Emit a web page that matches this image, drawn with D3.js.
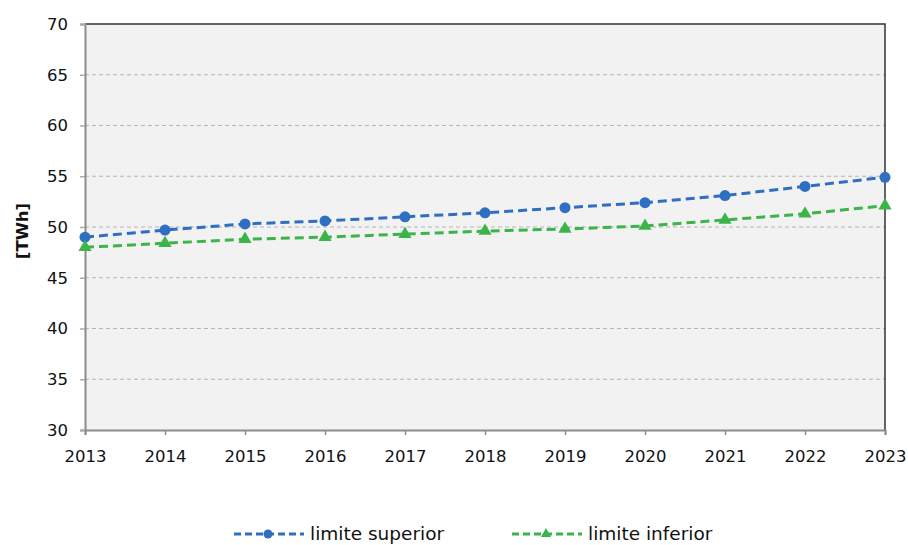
<!DOCTYPE html>
<html>
<head>
<meta charset="utf-8">
<script src="https://cdn.jsdelivr.net/npm/d3@7"></script>
<style>
  body { margin: 0; background: #fff; }
  svg { display: block; font-family: "DejaVu Sans", sans-serif; }
</style>
</head>
<body>
<div id="graph"></div>
<script>
// data
var years = [2013, 2014, 2015, 2016, 2017, 2018, 2019, 2020, 2021, 2022, 2023];
var superior = [49.0, 49.7, 50.3, 50.6, 51.0, 51.4, 51.9, 52.4, 53.1, 54.0, 54.9];
var inferior = [48.0, 48.4, 48.8, 49.0, 49.3, 49.6, 49.8, 50.1, 50.7, 51.3, 52.1];
var yTicks = [30, 35, 40, 45, 50, 55, 60, 65, 70];
var seriesNames = ["limite superior", "limite inferior"];

var W = 908, H = 545;
var margin = {top: 24, right: 23, bottom: 115, left: 85},
    width = W - margin.left - margin.right,
    height = H - margin.top - margin.bottom;

var blue = "#2e6fc2", green = "#3cb44a";

var x = d3.scaleLinear().domain([2013, 2023]).range([0, width]);
var y = d3.scaleLinear().domain([30, 70]).range([height, 0]);

var svg = d3.select("#graph").append("svg")
    .attr("width", W)
    .attr("height", H);

var g = svg.append("g")
    .attr("transform", "translate(" + margin.left + "," + margin.top + ")");

// plot background
g.append("rect")
    .attr("width", width)
    .attr("height", height)
    .attr("fill", "#f2f2f2");

// grid lines
g.selectAll(".grid")
    .data(yTicks.slice(1, -1))
  .enter().append("line")
    .attr("x1", 0).attr("x2", width)
    .attr("y1", function(d) { return y(d); })
    .attr("y2", function(d) { return y(d); })
    .attr("stroke", "#b4b4b4")
    .attr("stroke-width", 1.2)
    .attr("stroke-dasharray", "4,3");

// top and right frame
g.append("path")
    .attr("d", "M0," + y(70) + "H" + width + "V" + height)
    .attr("fill", "none")
    .attr("stroke", "#333")
    .attr("stroke-width", 1.5);

// axes
var xAxis = g.append("g")
    .attr("transform", "translate(0," + height + ")")
    .call(d3.axisBottom(x).tickValues(years).tickFormat(d3.format("d")).tickSize(5).tickPadding(15));
var yAxis = g.append("g")
    .call(d3.axisLeft(y).tickValues(yTicks).tickSize(5).tickPadding(12));

[xAxis, yAxis].forEach(function(a) {
  a.select(".domain").attr("stroke", "#8c8c8c").attr("stroke-width", 2);
  a.selectAll(".tick line").attr("stroke", "#8c8c8c").attr("stroke-width", 1.5);
  a.selectAll("text").attr("fill", "#111").style("font-size", "16.5px").style("font-family", "DejaVu Sans, sans-serif");
});
yAxis.selectAll(".tick line").attr("stroke", "#aaa");

// y label
svg.append("text")
    .attr("transform", "translate(28," + (margin.top + height / 2 + 4) + ") rotate(-90)")
    .attr("text-anchor", "middle")
    .style("font-size", "16.5px")
    .style("font-weight", "bold")
    .attr("fill", "#111")
    .text("[TWh]");

var line = d3.line()
    .x(function(d, i) { return x(years[i]); })
    .y(function(d) { return y(d); });

var triangle = d3.symbol().type(d3.symbolTriangle).size(75);
var triangleSmall = d3.symbol().type(d3.symbolTriangle).size(45);

function drawSeries(vals, color, marker) {
  g.append("path")
      .datum(vals)
      .attr("fill", "none")
      .attr("stroke", color)
      .attr("stroke-width", 3)
      .attr("stroke-dasharray", "9,5")
      .attr("d", line);
  if (marker === "circle") {
    g.selectAll(null)
        .data(vals)
      .enter().append("circle")
        .attr("cx", function(d, i) { return x(years[i]); })
        .attr("cy", function(d) { return y(d); })
        .attr("r", 5.5)
        .attr("fill", color);
  } else {
    g.selectAll(null)
        .data(vals)
      .enter().append("path")
        .attr("d", triangle)
        .attr("transform", function(d, i) { return "translate(" + x(years[i]) + "," + y(d) + ")"; })
        .attr("fill", color);
  }
}

drawSeries(superior, blue, "circle");
drawSeries(inferior, green, "triangle");

// legend
var legend = svg.append("g").attr("transform", "translate(0,534)");
var legendItems = [
  {name: seriesNames[0], color: blue, marker: "circle", x0: 234},
  {name: seriesNames[1], color: green, marker: "triangle", x0: 512}
];
legendItems.forEach(function(it) {
  legend.append("line")
      .attr("x1", it.x0).attr("x2", it.x0 + 70)
      .attr("stroke", it.color)
      .attr("stroke-width", 3)
      .attr("stroke-dasharray", "7,4");
  if (it.marker === "circle") {
    legend.append("circle").attr("cx", it.x0 + 34).attr("r", 4.5).attr("fill", it.color);
  } else {
    legend.append("path").attr("d", triangleSmall).attr("transform", "translate(" + (it.x0 + 34) + ",0)").attr("fill", it.color);
  }
  legend.append("text")
      .attr("x", it.x0 + 76)
      .attr("dy", "0.35em")
      .style("font-size", "18.5px")
      .attr("fill", "#111")
      .text(it.name);
});
</script>
</body>
</html>
